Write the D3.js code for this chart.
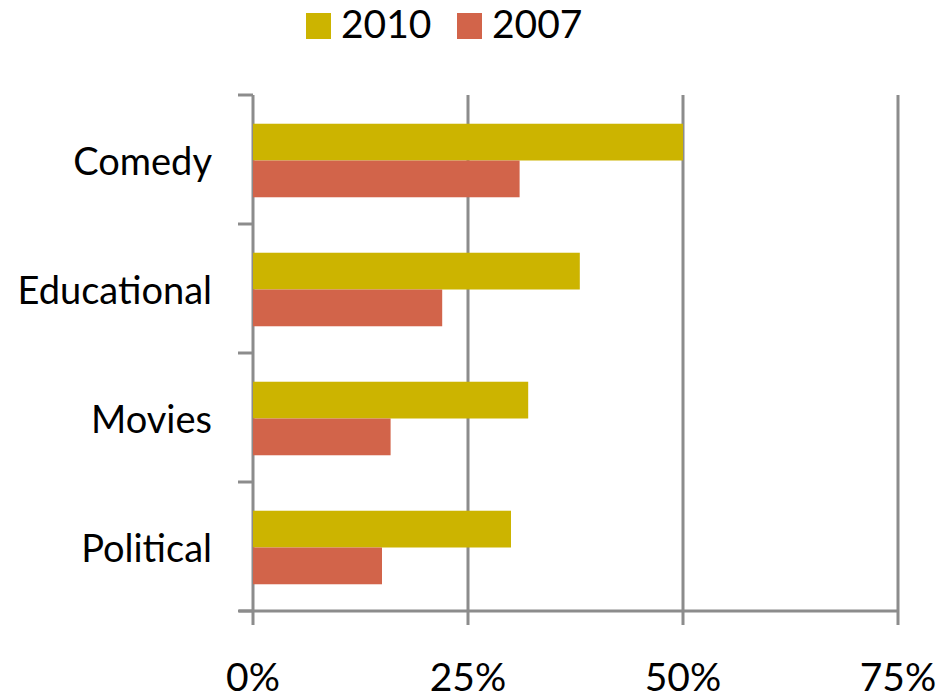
<!DOCTYPE html>
<html>
<head>
<meta charset="utf-8">
<script src="https://cdn.jsdelivr.net/npm/d3@7"></script>
<style>
  body { margin: 0; background: #fff; }
  svg { display: block; }
  text { font-family: Lato, "Open Sans", sans-serif; fill: #000; }
</style>
</head>
<body>
<svg width="936" height="695"></svg>
<script>
// dados
const categorias = ["Comedy", "Educational", "Movies", "Political"];
const series = ["2010", "2007"];
const valores2010 = [50, 38, 32, 30];
const valores2007 = [31, 22, 16, 15];
const ticksX = [0, 25, 50, 75];
const cores = ["#CCB400", "#D2644A"];

const svg = d3.select("svg");
const margem = { left: 253, right: 38, top: 95, bottom: 84 };
const altura = 695 - margem.top - margem.bottom;

const x = d3.scaleLinear().domain([0, 75]).range([margem.left, margem.left + 645]);
const y = d3.scaleBand().domain(categorias).range([margem.top, margem.top + altura]);
const ySub = d3.scaleBand().domain(series).range([0, y.bandwidth() * 0.57]);
const deslocamento = (y.bandwidth() - ySub.range()[1]) / 2 + 1;

const cinza = "#8c8c8c";

// linhas de grade (e marcas abaixo do eixo)
svg.append("g")
  .selectAll("line")
  .data(ticksX)
  .enter()
  .append("line")
  .attr("x1", d => x(d))
  .attr("x2", d => x(d))
  .attr("y1", margem.top)
  .attr("y2", margem.top + altura + 14)
  .attr("stroke", cinza)
  .attr("stroke-width", 3);

// eixo x
svg.append("line")
  .attr("x1", margem.left - 14)
  .attr("x2", x(75))
  .attr("y1", margem.top + altura)
  .attr("y2", margem.top + altura)
  .attr("stroke", cinza)
  .attr("stroke-width", 3);

// marcas do eixo y
const limites = categorias.map(c => y(c)).concat([margem.top + altura]);
svg.append("g")
  .selectAll("line")
  .data(limites)
  .enter()
  .append("line")
  .attr("x1", margem.left - 15)
  .attr("x2", margem.left)
  .attr("y1", d => d)
  .attr("y2", d => d)
  .attr("stroke", cinza)
  .attr("stroke-width", 3);

// barras
const dados = categorias.map((c, i) => ({ cat: c, vals: [valores2010[i], valores2007[i]] }));
const grupos = svg.append("g")
  .selectAll("g")
  .data(dados)
  .enter()
  .append("g")
  .attr("transform", d => `translate(0,${y(d.cat) + deslocamento})`);

grupos.selectAll("rect")
  .data(d => d.vals.map((v, j) => ({ serie: series[j], v: v, cor: cores[j] })))
  .enter()
  .append("rect")
  .attr("x", x(0))
  .attr("y", d => ySub(d.serie))
  .attr("width", d => x(d.v) - x(0))
  .attr("height", ySub.bandwidth())
  .attr("fill", d => d.cor);

// rótulos das categorias
svg.append("g")
  .selectAll("text")
  .data(categorias)
  .enter()
  .append("text")
  .attr("x", 212)
  .attr("y", d => y(d) + y.bandwidth() / 2 + 15)
  .attr("text-anchor", "end")
  .attr("font-size", 38)
  .text(d => d);

// rótulos do eixo x
svg.append("g")
  .selectAll("text")
  .data(ticksX)
  .enter()
  .append("text")
  .attr("x", d => x(d))
  .attr("y", 691)
  .attr("text-anchor", "middle")
  .attr("font-size", 39)
  .text(d => d + "%");

// legenda
const legenda = svg.append("g")
  .selectAll("g")
  .data(series)
  .enter()
  .append("g")
  .attr("transform", (d, i) => `translate(${306 + i * 151},13)`);

legenda.append("rect")
  .attr("width", 25)
  .attr("height", 26)
  .attr("fill", (d, i) => cores[i]);

legenda.append("text")
  .attr("x", 35)
  .attr("y", 25)
  .attr("font-size", 39)
  .text(d => d);
</script>
</body>
</html>
